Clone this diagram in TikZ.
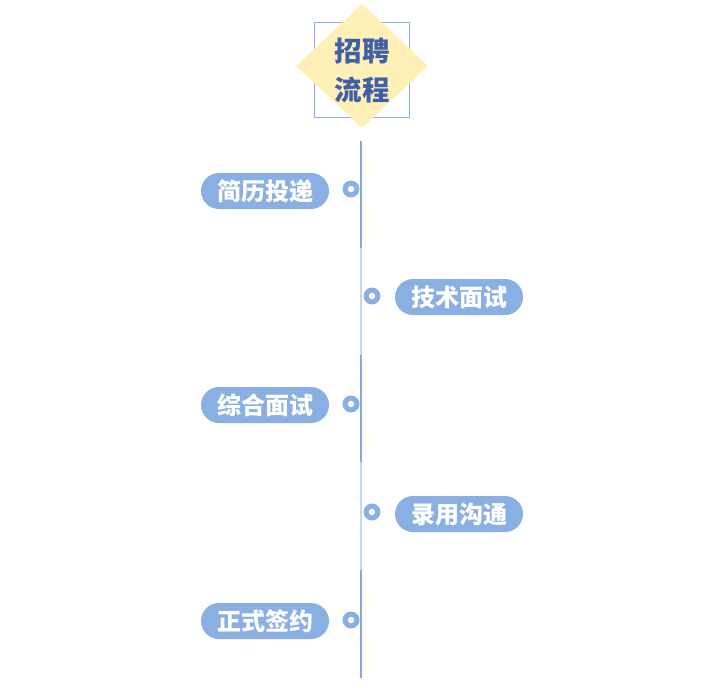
\documentclass[tikz,border=0pt]{standalone}
\usepackage{fontspec}
\newfontfamily\cjk{Noto Sans CJK SC}
\usetikzlibrary{shapes.geometric}
\definecolor{pillblue}{HTML}{8AB0E3}
\definecolor{linedark}{HTML}{82A9E1}
\definecolor{linelight}{HTML}{C6D9F3}
\definecolor{titleblue}{HTML}{3F5FA8}
\definecolor{diamondyellow}{HTML}{FFF0B8}
\tikzset{
  pill/.style={fill=pillblue, rounded corners=18pt, minimum width=128pt, minimum height=36pt, inner sep=0pt, text=white, font=\cjk\bfseries\fontsize{24}{26}\selectfont},
  dotmark/.style={circle, fill=pillblue, minimum size=17pt, inner sep=0pt, path picture={\fill[white] (path picture bounding box.center) circle (3.2pt);}},
  seg dark/.style={draw=linedark, line width=1.2pt},
  seg light/.style={draw=linelight, line width=2.6pt},
}
\begin{document}
\begin{tikzpicture}[x=1pt,y=-1pt]
\useasboundingbox (0,0) rectangle (702,691);
% title
\draw[draw=pillblue, line width=0.8pt] (314,22) rectangle (409,117);
\node[diamond, fill=diamondyellow, minimum width=132pt, minimum height=124pt, inner sep=0pt] (title) at (362,66) {};
\node[text=titleblue, font=\cjk\bfseries\fontsize{27.5}{39}\selectfont, align=center] (titletext) at (362,71) {招聘\\流程};
% spine
\coordinate (s0) at (361,141);
\coordinate (s1) at (361,248);
\coordinate (s2) at (361,355);
\coordinate (s3) at (361,462);
\coordinate (s4) at (361,570);
\coordinate (s5) at (361,678);
\draw[seg dark] (s0) -- (s1);
\draw[seg light] (s1) -- (s2);
\draw[seg dark] (s2) -- (s3);
\draw[seg light] (s3) -- (s4);
\draw[seg dark] (s4) -- (s5);
% items
\node[pill] (p1) at (265,191) {简历投递};
\node[dotmark] (d1) at (351,189) {};
\node[pill] (p2) at (459,297) {技术面试};
\node[dotmark] (d2) at (372,296) {};
\node[pill] (p3) at (265,405) {综合面试};
\node[dotmark] (d3) at (351,404) {};
\node[pill] (p4) at (459,514) {录用沟通};
\node[dotmark] (d4) at (372,512) {};
\node[pill] (p5) at (265,621) {正式签约};
\node[dotmark] (d5) at (351,620) {};
\end{tikzpicture}
\end{document}
